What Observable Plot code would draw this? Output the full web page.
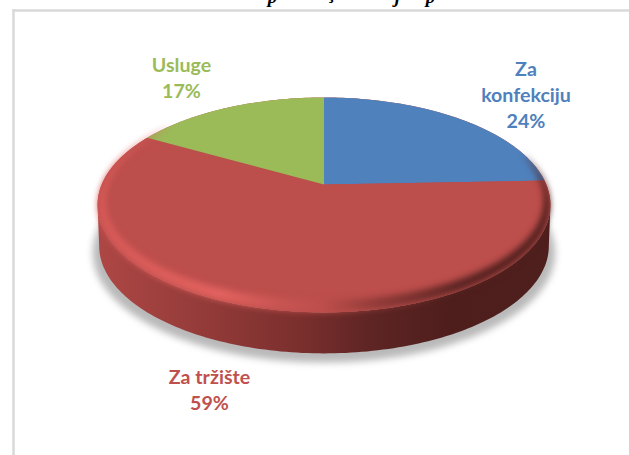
<!DOCTYPE html>
<html>
<head>
<meta charset="utf-8">
<style>html,body{margin:0;padding:0;background:#fff;overflow:hidden}svg{display:block}</style>
<script src="https://cdn.jsdelivr.net/npm/d3@7"></script>
<script src="https://cdn.jsdelivr.net/npm/@observablehq/plot@0.6"></script>
</head>
<body>
<script>
// Data
const categories = ["Za konfekciju", "Za tržište", "Usluge"];
const shares = [24.4, 58.8, 16.8];
const labelLines = ["Za\nkonfekciju\n24%", "Za tržište\n59%", "Usluge\n17%"];
const sliceColors = ["#4f81bd", "#bc4e4b", "#9bbb59"];
const labelColors = ["#4f81bd", "#c0504d", "#9bbb59"];

// Tilted-disc geometry
const W = 629, H = 455, cx = 323.5, cy = 184, rx = 222.3, ry = 103.6, k = 0.19, depth = 41;
const project = (a, s = 1) => {
  const u = Math.sin(a) * s, v = Math.cos(a) * s, w = 1 + k * v;
  return [u / w, v / w];
};
const arc = (a0, a1, s = 1, dy = 0, sx = 1) => {
  const n = Math.max(2, Math.ceil(Math.abs(a1 - a0) / 0.02));
  return d3.range(n + 1).map(i => {
    const [x, y] = project(a0 + (a1 - a0) * i / n, s);
    return {x: x * sx, y: y + dy};
  });
};
const px = v => (v - cx) / rx, py = v => (cy - v) / ry;
const pie = d3.pie().sort(null).value(d => d)(shares);
const slicePts = pie.map((p) => [{x: 0, y: 0}, ...arc(p.startAngle, p.endAngle), {x: 0, y: 0}]);
const TAU = 2 * Math.PI;
const whole = arc(0, TAU);
const drop = depth / ry;
const sideStart = 0.561 * Math.PI, sideEnd = 1.439 * Math.PI;
const sidePts = [...arc(sideStart, sideEnd), ...arc(sideEnd, sideStart, 1, -drop, 0.993)];
const shadowPts = arc(0, TAU, 1.02, -drop - 6 / ry);
// Bevel band: a crescent that tapers towards both ends
const rimA0 = 0.40 * Math.PI, rimA1 = 1.72 * Math.PI;
const rimOuter = arc(rimA0, rimA1, 0.998);
const rimInner = d3.range(0, 161).map(i => {
  const a = rimA1 + (rimA0 - rimA1) * i / 160;
  const f = Math.pow(Math.sin(Math.PI * i / 160), 0.5);
  const b = Math.max(0, -Math.cos(a));
  const [x, y] = project(a, 1 - f * (0.045 + 0.035 * b * b));
  return {x, y};
});
const rimPts = [...rimOuter, ...rimInner];

const labelAnchors = [[525.5, 93], [209, 388.5], [181, 76]];
const labels = labelLines.map((t, i) => ({t, i, x: px(labelAnchors[i][0]), y: py(labelAnchors[i][1])}));
const cutTitle = [["p", 272, -4], ["ç", 332, -8], ["j", 397, -4], ["p", 430, -4]].map(([t, x, y]) => ({t, x: px(x), y: py(y)}));

const defs = () => {
  const s = d3.create("svg:defs");
  const grad = (id, stops) => {
    const g = s.append("linearGradient").attr("id", id).attr("x1", 0).attr("x2", 1).attr("y1", 0).attr("y2", 0);
    stops.forEach(([o, c]) => g.append("stop").attr("offset", o).attr("stop-color", c));
  };
  grad("side", [[0, "#ae4745"], [0.22, "#953c3a"], [0.45, "#7a2f2d"], [0.6, "#5e2524"], [0.78, "#4e1e1c"], [1, "#4f1f1d"]]);
  grad("rim", [[0, "#d65957"], [0.27, "#e2625f"], [0.4, "#c95553"], [0.5, "#bc4e4b"], [0.62, "#8f3a38"], [0.8, "#5a2422"], [1, "#4e1e1c"]]);
  return s.node();
};

const chart = Plot.plot({
  width: W, height: H, margin: 0,
  x: {domain: [-1, 1], range: [cx - rx, cx + rx], axis: null},
  y: {domain: [-1, 1], range: [cy + ry, cy - ry], axis: null},
  marks: [
    defs,
    Plot.text(cutTitle, {x: "x", y: "y", text: "t", fontFamily: "Liberation Serif", fontStyle: "italic", fontWeight: "bold", fontSize: 19, fill: "#000", lineAnchor: "bottom", dy: 6}),
    Plot.ruleY([py(10)], {x1: px(12.5), x2: px(629), stroke: "#d9d9d9", strokeWidth: 2.5}),
    Plot.ruleX([px(13)], {y1: py(9), y2: py(455), stroke: "#d9d9d9", strokeWidth: 2.5}),
    Plot.line(shadowPts, {x: "x", y: "y", fill: "#8a8a8a", stroke: "none", fillOpacity: 0.6, imageFilter: "blur(3.5px)"}),
    Plot.line(sidePts, {x: "x", y: "y", fill: "url(#side)", stroke: "none"}),
    Plot.line(whole, {x: "x", y: "y", fill: sliceColors[1], stroke: "none"}),
    ...slicePts.map((pts, i) => Plot.line(pts, {x: "x", y: "y", fill: sliceColors[i], stroke: "none"})),
    Plot.line(rimPts, {x: "x", y: "y", fill: "url(#rim)", stroke: "none", imageFilter: "blur(3px)"}),
    Plot.text(labels, {x: "x", y: "y", text: "t", fill: d => labelColors[d.i], fontFamily: "Lato", fontWeight: "bold", fontSize: 19.6, lineHeight: 1.326, textAnchor: "middle"})
  ]
});
document.body.appendChild(chart);
</script>
</body>
</html>
